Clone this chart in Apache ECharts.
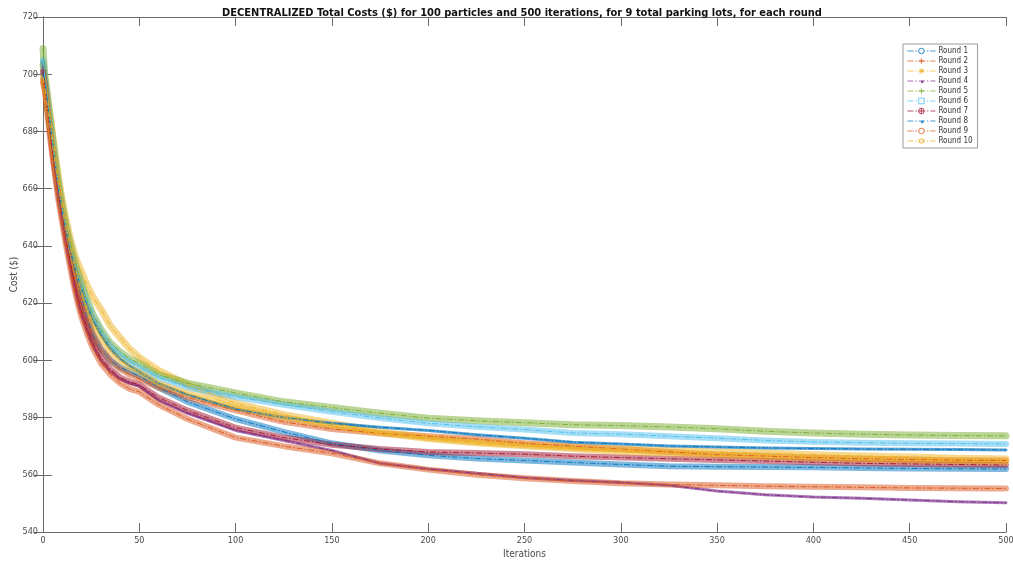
<!DOCTYPE html>
<html>
<head>
<meta charset="utf-8">
<script src="https://cdn.jsdelivr.net/npm/echarts@6/dist/echarts.min.js"></script>
<style>
  html, body { margin: 0; padding: 0; background: #fff; }
  #chart { width: 1013px; height: 563px; }
</style>
</head>
<body>
<div id="chart"></div>
<script>
// Iteration numbers at which the best cost of each round was recorded
const iterations = [0, 1, 2, 3, 4, 6, 8, 10, 12, 14,
  16, 18, 20, 23, 26, 30, 35, 40, 45, 50,
  60, 75, 100, 125, 150, 175, 200, 225, 250, 275,
  300, 325, 350, 375, 400, 425, 450, 475, 500];

// Best total cost ($) per round at those iterations
const round1 = [704, 697, 691, 685, 680, 670, 661, 653, 646, 639,
  633, 627, 622, 615, 609, 604, 600, 597.5, 596, 594.5,
  590.5, 585.5, 579.5, 575, 571, 568.5, 566.8, 565.7, 565, 564.3,
  563.6, 563, 562.8, 562.7, 562.6, 562.4, 562.2, 562.1, 562];
const round2 = [698, 695, 690, 684, 679, 669, 660, 652, 645, 639,
  633, 627, 622, 615, 609, 604, 600, 597, 595, 593.5,
  590.5, 587, 582.5, 578.5, 576, 574.5, 573.5, 572.5, 571, 570,
  569, 568, 567, 566.5, 566, 565.6, 565.3, 565.1, 565];
const round3 = [703, 699, 694, 689, 684, 674, 664, 656, 649, 643,
  638, 634, 631, 626, 622, 618, 612, 608, 604, 601,
  596.5, 591.5, 585, 581, 578, 575, 573, 571.5, 570.5, 569.5,
  569, 568.4, 568, 567.6, 567, 566.6, 566.2, 565.8, 565.5];
const round4 = [703, 697, 690, 684, 678, 667, 657, 649, 641, 634,
  627, 621, 616, 610, 605, 600, 596, 593.5, 592, 591,
  586, 581.5, 575.5, 572, 568.5, 564, 562, 560.5, 559, 558,
  557.3, 556.3, 554.3, 553, 552.2, 551.8, 551.2, 550.6, 550.2];
const round5 = [709, 699, 694, 688, 683, 672, 662, 654, 647, 641,
  636, 631, 627, 621, 616, 611, 606, 603, 600.5, 599,
  595, 592, 588.6, 585.5, 583.5, 581.5, 579.8, 578.9, 578.2, 577.5,
  577.2, 576.7, 576.1, 575.2, 574.6, 574.2, 573.9, 573.7, 573.6];
const round6 = [705, 698, 693, 687, 682, 671, 661, 653, 646, 640,
  635, 630, 626, 620, 615, 610, 605, 602, 599.5, 597.5,
  594, 590.5, 587.2, 584.5, 582, 579.8, 578, 576.8, 575.8, 574.6,
  574.2, 573.5, 572.8, 572, 571.5, 571.2, 571, 570.9, 570.8];
const round7 = [701, 696, 690, 684, 678, 667, 658, 650, 642, 635,
  628, 622, 617, 611, 606, 601, 597, 594, 592.5, 591.5,
  587, 582.5, 576.5, 573, 570.5, 569, 568, 567.6, 567.2, 566.5,
  566, 565.6, 565.2, 564.8, 564.4, 564, 563.8, 563.6, 563.4];
const round8 = [700, 697, 692, 686, 681, 670, 660, 652, 645, 639,
  634, 629, 625, 619, 614, 609, 604, 600.5, 598, 596,
  592, 588, 583, 580, 578, 576.6, 575.5, 574, 572.8, 571.4,
  570.8, 570.1, 569.7, 569.4, 569.2, 569, 568.9, 568.8, 568.7];
const round9 = [697, 694, 688, 682, 676, 666, 656, 648, 640, 633,
  626, 620, 615, 609, 604, 599, 595, 592, 590, 589,
  584.5, 579.5, 573, 570, 567.5, 564, 561.8, 560, 558.8, 557.8,
  557, 556.6, 556.3, 556, 555.8, 555.6, 555.4, 555.3, 555.2];
const round10 = [699, 695, 690, 685, 680, 670, 661, 653, 646, 640,
  634, 629, 624, 618, 613, 608, 603, 600, 597.5, 596,
  592, 588.5, 583.5, 580, 577, 574.5, 572.5, 571, 570, 569,
  568, 567.4, 566.8, 566.2, 565.7, 565.3, 565, 564.7, 564.5];

const roundNames = ['Round 1', 'Round 2', 'Round 3', 'Round 4', 'Round 5',
  'Round 6', 'Round 7', 'Round 8', 'Round 9', 'Round 10'];
const roundValues = [round1, round2, round3, round4, round5,
  round6, round7, round8, round9, round10];

// Axis ticks
const xTicks = { min: 0, max: 500, step: 50 };
const yTicks = { min: 540, max: 720, step: 20 };

// Styling per round: colour, marker, band width
const palette = ['#0072BD', '#D95319', '#EDB120', '#7E2F8E', '#77AC30',
  '#4DBEEE', '#A2142F', '#0072BD', '#D95319', '#EDB120'];
const circlePath = 'path://M5,0 A5,5 0 1 1 4.99,0 Z';
const plusPath = 'path://M5,0 L5,10 M0,5 L10,5';
const starPath = 'path://M5,0 L5,10 M0,5 L10,5 M1.5,1.5 L8.5,8.5 M8.5,1.5 L1.5,8.5';
const squarePath = 'path://M0.5,0.5 L9.5,0.5 L9.5,9.5 L0.5,9.5 Z';
const circlePlusPath = 'path://M5,0 A5,5 0 1 1 4.99,0 Z M5,0 L5,10 M0,5 L10,5';
const hexPath = 'path://M5,0 L6.2,3 L9.3,2.5 L7.4,5 L9.3,7.5 L6.2,7 L5,10 L3.8,7 L0.7,7.5 L2.6,5 L0.7,2.5 L3.8,3 Z';
// small dot centred in a 10x10 box (move-to corners fix the box size)
const dotPath = 'path://M0,0 M10,10 M6.6,5 A1.6,1.6 0 1 1 6.59,5 Z';
const markers = [
  { symbol: circlePath, band: 6, fill: false },
  { symbol: plusPath, band: 6, fill: false },
  { symbol: starPath, band: 7, fill: false },
  { symbol: dotPath, band: 3, fill: true },
  { symbol: plusPath, band: 7, fill: false },
  { symbol: squarePath, band: 6, fill: false },
  { symbol: circlePlusPath, band: 6, fill: false },
  { symbol: dotPath, band: 3, fill: true },
  { symbol: circlePath, band: 6, fill: false },
  { symbol: hexPath, band: 6, fill: false }
];

const font = '"DejaVu Sans Condensed", "Liberation Sans Narrow", "DejaVu Sans", sans-serif';
const axisColor = '#6b6b6b';
const labelColor = '#4a4a4a';

const series = [];
roundValues.forEach(function (vals, i) {
  const pts = iterations.map(function (it, k) { return [it, vals[k]]; });
  const m = markers[i];
  const thin = m.band <= 3;
  // translucent band left by the per-iteration markers
  series.push({
    type: 'line',
    data: pts,
    showSymbol: false,
    silent: true,
    legendHoverLink: false,
    z: 2,
    lineStyle: { color: palette[i], width: m.band, opacity: thin ? 0.65 : 0.5, cap: 'round', join: 'round' },
    animation: false
  });
  // dash-dot line of the round
  series.push({
    name: roundNames[i],
    type: 'line',
    data: pts,
    showSymbol: false,
    symbol: m.symbol,
    symbolSize: 6,
    z: 3,
    itemStyle: {
      color: m.fill ? palette[i] : '#ffffff',
      borderColor: palette[i], borderWidth: 0.9, opacity: 0.85
    },
    lineStyle: { color: palette[i], width: 1, type: [6, 2, 1.5, 2], opacity: 0.9 },
    animation: false
  });
});

const chart = echarts.init(document.getElementById('chart'), null, { renderer: 'canvas' });
chart.setOption({
  animation: false,
  backgroundColor: '#ffffff',
  textStyle: { fontFamily: font },
  title: {
    text: 'DECENTRALIZED Total Costs ($) for 100 particles and 500 iterations, for 9 total parking lots, for each round',
    left: 517,
    textAlign: 'center',
    top: 3,
    textStyle: { fontSize: 11, fontWeight: 'bold', color: '#111', fontFamily: font }
  },
  grid: { left: 43, right: 7, top: 17, bottom: 31, containLabel: false, outerBoundsMode: 'none' },
  legend: {
    data: roundNames,
    orient: 'vertical',
    left: 903,
    top: 44,
    itemWidth: 28,
    itemHeight: 7,
    itemGap: 2,
    padding: [3, 5, 3, 4],
    backgroundColor: '#ffffff',
    borderColor: '#9a9a9a',
    borderWidth: 1,
    lineStyle: { width: 0.8 },
    itemStyle: { borderWidth: 0.9 },
    textStyle: { fontSize: 8, color: '#333', fontFamily: font, padding: [0, 0, 0, -2] }
  },
  xAxis: [{
    type: 'value',
    min: xTicks.min, max: xTicks.max, interval: xTicks.step,
    name: 'Iterations', nameLocation: 'middle', nameGap: 16,
    nameTextStyle: { fontSize: 10, color: labelColor, fontFamily: font },
    axisLine: { show: true, lineStyle: { color: axisColor, width: 1 } },
    axisTick: { show: true, inside: true, length: 9, lineStyle: { color: axisColor } },
    axisLabel: { fontSize: 9, color: labelColor, margin: 4, fontFamily: font },
    splitLine: { show: false }
  }, {
    type: 'value', position: 'top',
    min: xTicks.min, max: xTicks.max, interval: xTicks.step,
    axisLine: { show: true, lineStyle: { color: axisColor, width: 1 } },
    axisTick: { show: true, inside: true, length: 9, lineStyle: { color: axisColor } },
    axisLabel: { show: false },
    splitLine: { show: false }
  }],
  yAxis: [{
    type: 'value',
    min: yTicks.min, max: yTicks.max, interval: yTicks.step,
    name: 'Cost ($)', nameLocation: 'middle', nameGap: 24, nameRotate: 90,
    nameMoveOverlap: false,
    nameTextStyle: { fontSize: 10, color: labelColor, fontFamily: font },
    axisLine: { show: true, lineStyle: { color: axisColor, width: 1 } },
    axisTick: { show: true, inside: true, length: 9, lineStyle: { color: axisColor } },
    axisLabel: { fontSize: 9, color: labelColor, margin: 5, fontFamily: font },
    splitLine: { show: false }
  }, {
    type: 'value', position: 'right',
    min: yTicks.min, max: yTicks.max, interval: yTicks.step,
    axisLine: { show: true, lineStyle: { color: axisColor, width: 1 } },
    axisTick: { show: true, inside: true, length: 9, lineStyle: { color: axisColor } },
    axisLabel: { show: false },
    splitLine: { show: false }
  }],
  series: series
});
</script>
</body>
</html>
